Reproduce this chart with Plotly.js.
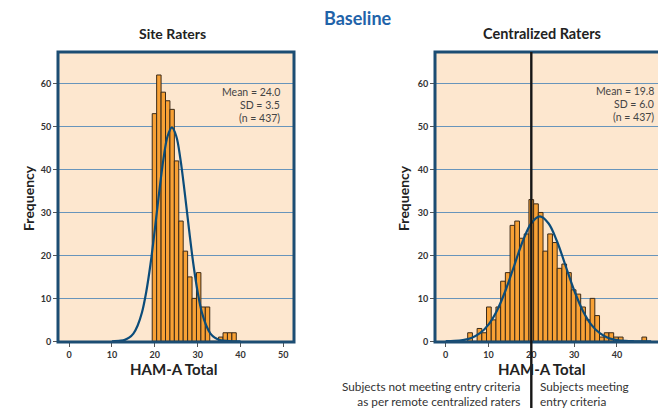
<!DOCTYPE html>
<html>
<head>
<meta charset="utf-8">
<script src="https://cdn.plot.ly/plotly-3.0.1.min.js"></script>
<style>
  html, body { margin: 0; padding: 0; background: #ffffff; }
  #chart { width: 658px; height: 408px; }
</style>
</head>
<body>
<div id="chart"></div>
<script>
// ---------- DATA ----------
// Site raters histogram: counts per bin, bins starting at siteBinStart, width siteBinWidth
const siteCounts = [53, 62, 58, 56, 54, 42, 28, 21, 15, 10, 16, 8, 8, 0, 0, 1, 2, 2, 2];
const siteBinStart = 19.4;
const siteBinWidth = 1.033;

// Centralized raters histogram
const centralCounts = [2, 0, 3, 2, 8, 5, 8, 14, 16, 27, 28, 24, 25, 33, 32, 30, 21, 25, 23, 17,
                       18, 16, 12, 11, 8, 5, 10, 6, 1, 2, 2, 1, 1, 0, 0, 0, 0, 1];
const centralBinStart = 5.14;
const centralBinWidth = 1.1;

// Fitted normal curves
const siteCurveX = [10, 12, 13, 14, 15, 16, 17, 18, 19, 20, 21, 22, 23, 24, 25, 26, 27, 28, 29, 30, 31, 32, 33, 34, 35, 36, 38, 40];
const siteCurveY = [0.0, 0.15, 0.35, 0.85, 1.8, 3.7, 6.7, 11.5, 18, 26, 34.5, 42.3, 47.8, 49.8, 47.8, 42.3, 34.5, 26, 18, 11.5, 6.7, 3.7, 1.8, 0.85, 0.35, 0.15, 0.02, 0.0];

const centralCurveX = [0, 2, 4, 6, 8, 10, 12, 14, 16, 18, 20, 22, 24, 26, 28, 30, 32, 34, 36, 38, 40, 42, 44, 46, 48];
const centralCurveY = [0.05, 0.1, 0.3, 0.8, 1.9, 3.9, 7.2, 11.9, 17.6, 23.3, 27.5, 29.1, 27.5, 23.3, 17.6, 11.9, 7.2, 3.9, 1.9, 0.8, 0.3, 0.1, 0.03, 0.01, 0.0];

const xTicks = [0, 10, 20, 30, 40, 50];
const yTicks = [0, 10, 20, 30, 40, 50, 60];
const entryCutoff = 20;

const siteStats = ["Mean = 24.0", "SD = 3.5", "(n = 437)"];
const centralStats = ["Mean = 19.8", "SD = 6.0", "(n = 437)"];

// ---------- STYLE ----------
const FONT = "Lato, 'Open Sans', 'DejaVu Sans', sans-serif";
const W = 658, H = 408;
const px = v => v / W;
const py = v => 1 - v / H;

const barFill = '#F8A135';
const barLine = '#3b2a18';
const curveColor = '#0b4c7a';
const frameColor = '#1c4d73';
const gridColor = '#6895bb';

function centers(start, width, counts) {
  return counts.map((_, i) => start + (i + 0.5) * width);
}

const traces = [
  {
    type: 'bar', xaxis: 'x', yaxis: 'y',
    x: centers(siteBinStart, siteBinWidth, siteCounts), y: siteCounts,
    width: siteBinWidth,
    marker: { color: barFill, line: { color: barLine, width: 1 } },
    hoverinfo: 'x+y'
  },
  {
    type: 'scatter', mode: 'lines', xaxis: 'x', yaxis: 'y',
    x: siteCurveX, y: siteCurveY,
    line: { color: curveColor, width: 2.2, shape: 'spline', smoothing: 1 }
  },
  {
    type: 'bar', xaxis: 'x2', yaxis: 'y2',
    x: centers(centralBinStart, centralBinWidth, centralCounts), y: centralCounts,
    width: centralBinWidth,
    marker: { color: barFill, line: { color: barLine, width: 1 } },
    hoverinfo: 'x+y'
  },
  {
    type: 'scatter', mode: 'lines', xaxis: 'x2', yaxis: 'y2',
    x: centralCurveX, y: centralCurveY,
    line: { color: curveColor, width: 2.2, shape: 'spline', smoothing: 1 }
  }
];

const tickFont = { family: FONT, size: 9, color: '#333333', weight: 'bold' };
const yDomain = [py(342), py(52)];

function xAxis(domain, range, anchor) {
  return {
    domain: domain, range: range, anchor: anchor,
    tickmode: 'array', tickvals: xTicks, ticktext: xTicks.map(String),
    ticks: 'outside', ticklen: 4, tickwidth: 1, tickcolor: '#555555',
    showgrid: false, zeroline: false, showline: false,
    tickfont: tickFont, automargin: false, fixedrange: true
  };
}
function yAxis(anchor) {
  return {
    domain: yDomain, range: [-0.15, 67.35], anchor: anchor,
    tickmode: 'array', tickvals: yTicks, ticktext: yTicks.map(String),
    ticks: 'outside', ticklen: 4, tickwidth: 1, tickcolor: '#555555',
    showgrid: true, gridcolor: gridColor, gridwidth: 1.5,
    zeroline: false, showline: false,
    tickfont: tickFont, automargin: false, fixedrange: true
  };
}

function ann(text, x, y, opts) {
  return Object.assign({
    text: text, xref: 'paper', yref: 'paper', x: px(x), y: py(y),
    xanchor: 'center', yanchor: 'middle', showarrow: false,
    font: { family: FONT, size: 12, color: '#333333' }
  }, opts || {});
}

const noteFont = { family: FONT, size: 11.8, color: '#333333' };
const annotations = [
  ann('Baseline', 358, 18, { font: { family: FONT, size: 18, color: '#1f63a9', weight: 'bold' } }),
  ann('Site Raters', 172, 33.5, { font: { family: FONT, size: 14, color: '#222222', weight: 'bold' } }),
  ann('Centralized Raters', 542, 33.5, { font: { family: FONT, size: 14.5, color: '#222222', weight: 'bold' } }),
  ann('Frequency', 28, 198, { textangle: -90, font: { family: FONT, size: 14, color: '#222222', weight: 'bold' } }),
  ann('Frequency', 403, 198, { textangle: -90, font: { family: FONT, size: 14, color: '#222222', weight: 'bold' } }),
  ann('HAM-A Total', 173, 369, { font: { family: FONT, size: 15, color: '#222222', weight: 'bold' } }),
  ann('HAM-A Total', 541, 369, { font: { family: FONT, size: 15, color: '#222222', weight: 'bold' } }),
  ann('Subjects not meeting entry criteria<br>as per remote centralized raters', 522, 394,
      { xanchor: 'right', align: 'right', font: noteFont }),
  ann('Subjects meeting<br>entry criteria', 538, 394,
      { xanchor: 'left', align: 'left', font: noteFont })
];
const statY = [92, 105, 118];
siteStats.forEach((t, i) => annotations.push(ann(t, 282, statY[i], { xanchor: 'right', font: { family: FONT, size: 10.5, color: '#444444' } })));
centralStats.forEach((t, i) => annotations.push(ann(t, 656, statY[i] - 1, { xanchor: 'right', font: { family: FONT, size: 10.5, color: '#444444' } })));

const shapes = [
  { type: 'rect', xref: 'x domain', yref: 'y domain', x0: 0, x1: 1, y0: 0, y1: 1,
    line: { color: frameColor, width: 3 }, fillcolor: 'rgba(0,0,0,0)', layer: 'above' },
  { type: 'rect', xref: 'x2 domain', yref: 'y2 domain', x0: 0, x1: 1.2, y0: 0, y1: 1,
    line: { color: frameColor, width: 3 }, fillcolor: 'rgba(0,0,0,0)', layer: 'above' },
  { type: 'line', xref: 'x2', yref: 'paper', x0: entryCutoff, x1: entryCutoff, y0: -0.02, y1: py(52),
    line: { color: '#161616', width: 2.4 }, layer: 'above' }
];

const layout = {
  width: W, height: H,
  margin: { l: 0, r: 0, t: 0, b: 0, pad: 0 },
  paper_bgcolor: '#ffffff',
  plot_bgcolor: '#fde7cf',
  showlegend: false,
  bargap: 0,
  font: { family: FONT, color: '#333333' },
  xaxis: xAxis([px(58), px(294)], [-2.6, 52.5], 'y'),
  yaxis: yAxis('x'),
  xaxis2: xAxis([px(435), 1], [-2.5, 49.6], 'y2'),
  yaxis2: yAxis('x2'),
  annotations: annotations,
  shapes: shapes
};

Plotly.newPlot('chart', traces, layout, { displayModeBar: false, staticPlot: true });
</script>
</body>
</html>
